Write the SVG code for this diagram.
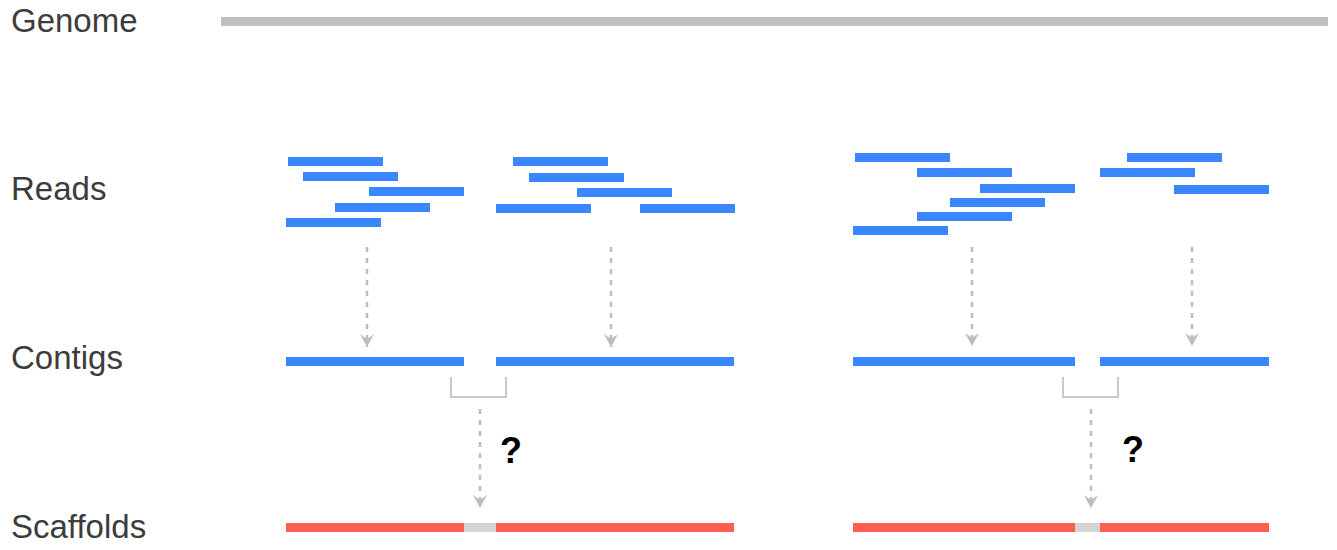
<svg xmlns="http://www.w3.org/2000/svg" width="1337" height="550" viewBox="0 0 1337 550">
<style>
.lbl{font-family:"Liberation Sans",Arial,sans-serif;font-size:33px;fill:#3c3c3c}
.q{font-family:"Liberation Sans",Arial,sans-serif;font-size:36px;font-weight:bold;fill:#000}
.read{fill:#3a87fd}
.scaf{fill:#fe5f4e}
.gap{fill:#d4d4d4}
.genome{fill:#c0c0c0}
.dash{stroke:#bdbdbd;stroke-width:2.5;stroke-dasharray:5 6;fill:none}
.brk{stroke:#c8c8c8;stroke-width:2;fill:none}
</style>
<defs>
<marker id="ah" markerUnits="userSpaceOnUse" markerWidth="16" markerHeight="16" refX="14" refY="8" orient="auto" viewBox="0 0 16 16">
<path d="M14 8 L1 1 L6 8 L1 15 Z" fill="#bdbdbd"/>
</marker>
</defs>
<rect width="1337" height="550" fill="#fff"/>
<g id="labels">
<text class="lbl" x="11" y="32">Genome</text>
<text class="lbl" x="11" y="200">Reads</text>
<text class="lbl" x="11" y="369">Contigs</text>
<text class="lbl" x="11" y="538">Scaffolds</text>
</g>
<g id="genome"><rect class="genome" x="221" y="17" width="1107" height="9"/></g>
<g id="reads-1">
<rect class="read" x="288" y="157" width="95" height="9"/>
<rect class="read" x="303" y="172" width="95" height="9"/>
<rect class="read" x="369" y="187" width="95" height="9"/>
<rect class="read" x="335" y="203" width="95" height="9"/>
<rect class="read" x="286" y="218" width="95" height="9"/>
</g>
<g id="reads-2">
<rect class="read" x="513" y="157" width="95" height="9"/>
<rect class="read" x="529" y="173" width="95" height="9"/>
<rect class="read" x="577" y="188" width="95" height="9"/>
<rect class="read" x="496" y="204" width="95" height="9"/>
<rect class="read" x="640" y="204" width="95" height="9"/>
</g>
<g id="reads-3">
<rect class="read" x="855" y="153" width="95" height="9"/>
<rect class="read" x="917" y="168" width="95" height="9"/>
<rect class="read" x="980" y="184" width="95" height="9"/>
<rect class="read" x="950" y="198" width="95" height="9"/>
<rect class="read" x="917" y="212" width="95" height="9"/>
<rect class="read" x="853" y="226" width="95" height="9"/>
</g>
<g id="reads-4">
<rect class="read" x="1127" y="153" width="95" height="9"/>
<rect class="read" x="1100" y="168" width="95" height="9"/>
<rect class="read" x="1174" y="185" width="95" height="9"/>
</g>
<g id="contigs-1">
<rect class="read" x="286" y="357" width="178" height="9"/>
<rect class="read" x="496" y="357" width="238" height="9"/>
</g>
<g id="contigs-2">
<rect class="read" x="853" y="357" width="222" height="9"/>
<rect class="read" x="1100" y="357" width="169" height="9"/>
</g>
<g id="scaffold-1">
<rect class="scaf" x="286" y="523" width="178" height="9"/>
<rect class="gap" x="464" y="523" width="32" height="9"/>
<rect class="scaf" x="496" y="523" width="238" height="9"/>
</g>
<g id="scaffold-2">
<rect class="scaf" x="853" y="523" width="222" height="9"/>
<rect class="gap" x="1075" y="523" width="25" height="9"/>
<rect class="scaf" x="1100" y="523" width="169" height="9"/>
</g>
<g id="connectors">
<path class="dash" d="M367 247 V347" marker-end="url(#ah)"/>
<path class="dash" d="M611 247 V347" marker-end="url(#ah)"/>
<path class="dash" d="M972 247 V346" marker-end="url(#ah)"/>
<path class="dash" d="M1192 247 V346" marker-end="url(#ah)"/>
<path class="brk" d="M451 377 V397 H506 V377"/>
<path class="brk" d="M1063 377 V397 H1118 V377"/>
<path class="dash" d="M480 409 V508" marker-end="url(#ah)"/>
<path class="dash" d="M1091 409 V508" marker-end="url(#ah)"/>
</g>
<g id="questions">
<text class="q" x="500" y="463">?</text>
<text class="q" x="1122" y="462">?</text>
</g>
</svg>
